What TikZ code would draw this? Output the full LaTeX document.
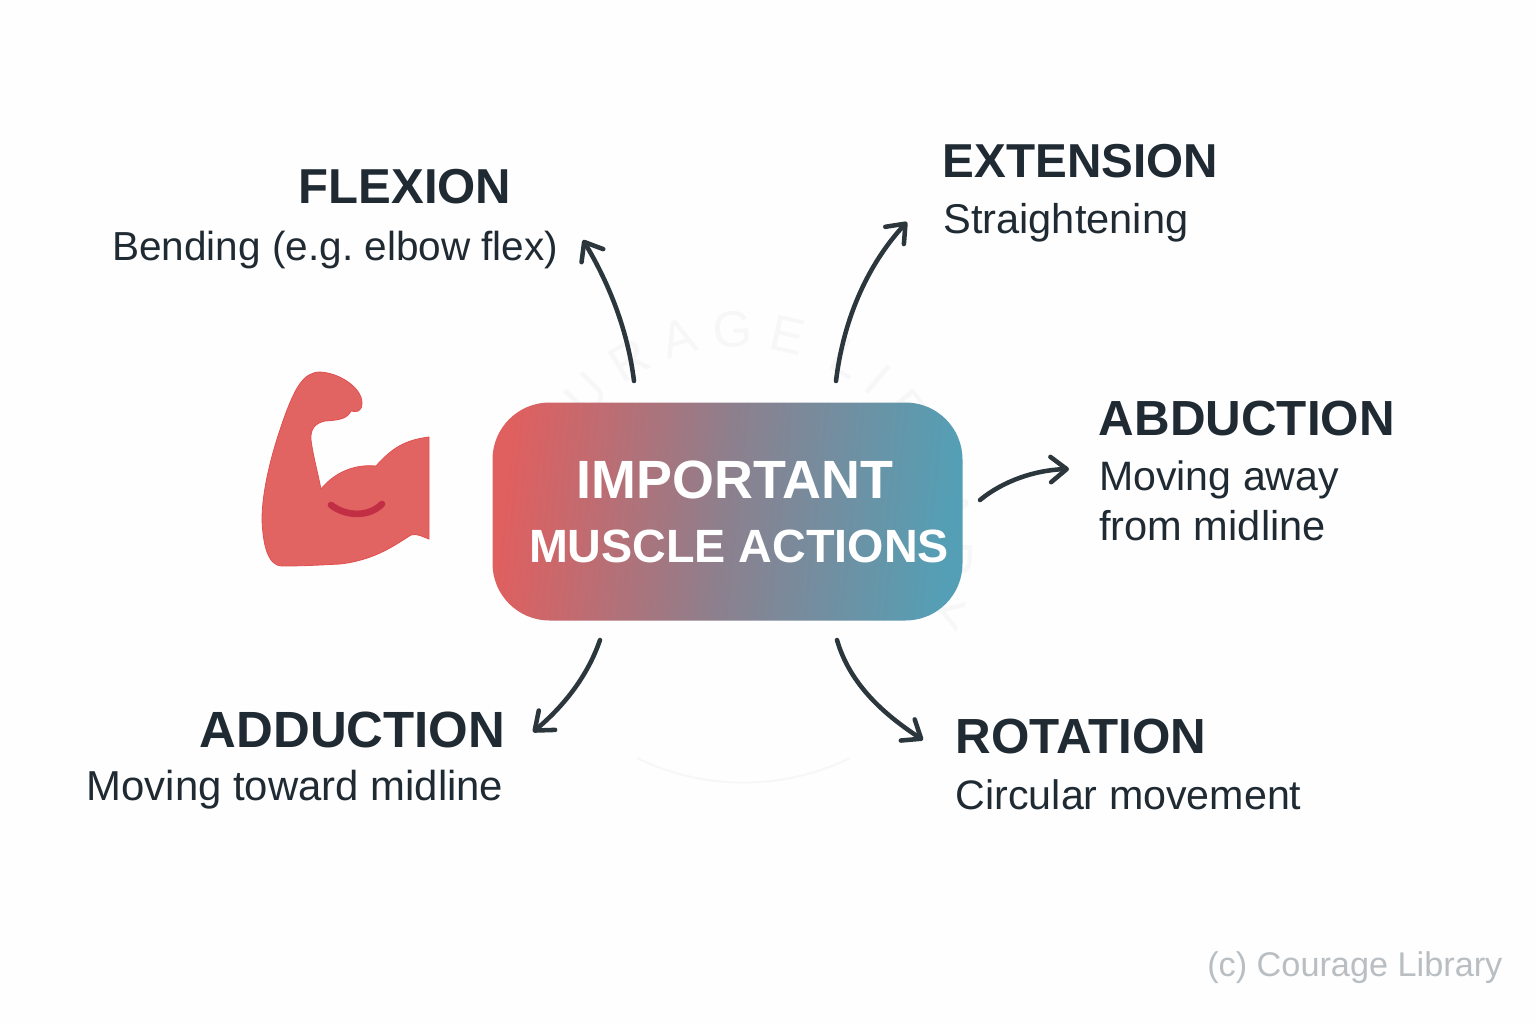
\documentclass[tikz,border=0pt]{standalone}
\usepackage{fontspec}
\setmainfont{Liberation Sans}
\usetikzlibrary{arrows.meta,decorations.text,shapes.misc}
\definecolor{ink}{HTML}{1F2A33}
\definecolor{arrowc}{HTML}{2B373D}
\definecolor{muscle}{HTML}{E16462}
\definecolor{muscleb}{HTML}{E14F50}
\definecolor{crease}{HTML}{C22F45}
\definecolor{hubl}{HTML}{E05F5F}
\definecolor{hubm}{HTML}{8C808E}
\definecolor{hubr}{HTML}{549FB5}
\definecolor{wm}{HTML}{F7F7F7}
\definecolor{foot}{HTML}{B9BEC2}
\frenchspacing
\tikzset{
  x=0.75pt,y=-0.75pt,
  head/.style={font=\fontsize{#1}{44}\selectfont\bfseries,text=ink,inner sep=0pt,anchor=base west},
  sub/.style={font=\fontsize{#1}{37}\selectfont,text=ink,inner sep=0pt,anchor=base west,align=left},
  con/.style={draw=arrowc,line width=3.4pt,line cap=round,-{Straight Barb[length=12pt,width=19pt,line width=3.4pt,round]}},
  hubt/.style={text=white,inner sep=0pt,anchor=base,font=\fontsize{#1}{44}\selectfont\bfseries},
}
\begin{document}
\begin{tikzpicture}
\useasboundingbox (0,0) rectangle (1536,1024);
\fill[white!99.5!black] (0,0) rectangle (1536,1024);
% watermark
\draw[wm,line width=1.5pt] (637,758) arc[start angle=116,end angle=64,radius=243];
\path[decorate,decoration={text along path,text align=center,
  text={|\fontsize{38}{38}\selectfont\color{wm}|C O U R A G E{ }{ }L I B R A R Y}}]
  (542,541.5) arc[start angle=181,end angle=391,radius=198];
% muscle
\path[fill=muscle,draw=muscleb,line width=0.6pt]
 (429,437) .. controls (405,440) and (392,448) .. (376,466)
 .. controls (355,464) and (335,472) .. (321,489)
 .. controls (316,465) and (313,455) .. (311,440)
 .. controls (310,428) and (316,423) .. (325,421)
 .. controls (342,420) and (347,418) .. (351,411)
 .. controls (355,412) and (362,413) .. (362,403)
 .. controls (362,388) and (340,373) .. (320,372)
 .. controls (303,372) and (295,390) .. (287,410)
 .. controls (272,450) and (262,490) .. (262,520)
 .. controls (263,545) and (268,566) .. (282,566)
 .. controls (305,566) and (320,565) .. (340,564)
 .. controls (375,560) and (395,545) .. (411,535)
 .. controls (417,533) and (423,537) .. (429,539) -- cycle;
\draw[crease,line width=5pt,line cap=round] (331,505) .. controls (345,516) and (368,518) .. (382,504);
% hub
\node[rounded corners=42.75pt,minimum width=352.5pt,minimum height=163.5pt,inner sep=0pt,
   left color=hubl,right color=hubr,middle color=hubm,shading angle=84] (hub) at (727.5,511.5) {};
\node[hubt=40.4] (hubA) at (735,498) {IMPORTANT};
\node[hubt=35] (hubB) at (739,562) {MUSCLE ACTIONS};
% labels
\node[head=36.8] (flexH) at (298.5,203) {FLEXION};
\node[sub=30.4] (flexS) at (112,260) {Bending (e.g. elbow flex)};
\node[head=35.7] (extH) at (942.5,177.5) {EXTENSION};
\node[sub=31.2] (extS) at (943,233) {Straightening};
\node[head=37] (abdH) at (1098.5,435) {ABDUCTION};
\node[sub=30.8] (abdS) at (1099,490) {Moving away};
\node[sub=31.2] (abdT) at (1099,540) {from midline};
\node[head=38.2] (addH) at (199.5,747) {ADDUCTION};
\node[sub=31.4] (addS) at (86.5,800) {Moving toward midline};
\node[head=37] (rotH) at (955.5,753) {ROTATION};
\node[sub=30.9] (rotS) at (955.5,809) {Circular movement};
\node[font=\fontsize{25.7}{30}\selectfont,text=foot,inner sep=0pt,anchor=base west] (foot) at (1207,976) {(c) Courage Library};
% connector ends
\coordinate (a1) at (634,381); \coordinate (a2) at (583,240);
\coordinate (b1) at (836,381); \coordinate (b2) at (907,222);
\coordinate (c1) at (980,500); \coordinate (c2) at (1069,469);
\coordinate (d1) at (600,640); \coordinate (d2) at (533,732);
\coordinate (e1) at (837,640); \coordinate (e2) at (923,740);
\draw[con] (a1) .. controls (628,332) and (610,285) .. (a2);
\draw[con] (b1) .. controls (844,315) and (870,262) .. (b2);
\draw[con] (c1) .. controls (1003,481) and (1035,470) .. (c2);
\draw[con] (d1) .. controls (588,675) and (565,705) .. (d2);
\draw[con] (e1) .. controls (850,685) and (885,715) .. (e2);
\end{tikzpicture}
\end{document}
